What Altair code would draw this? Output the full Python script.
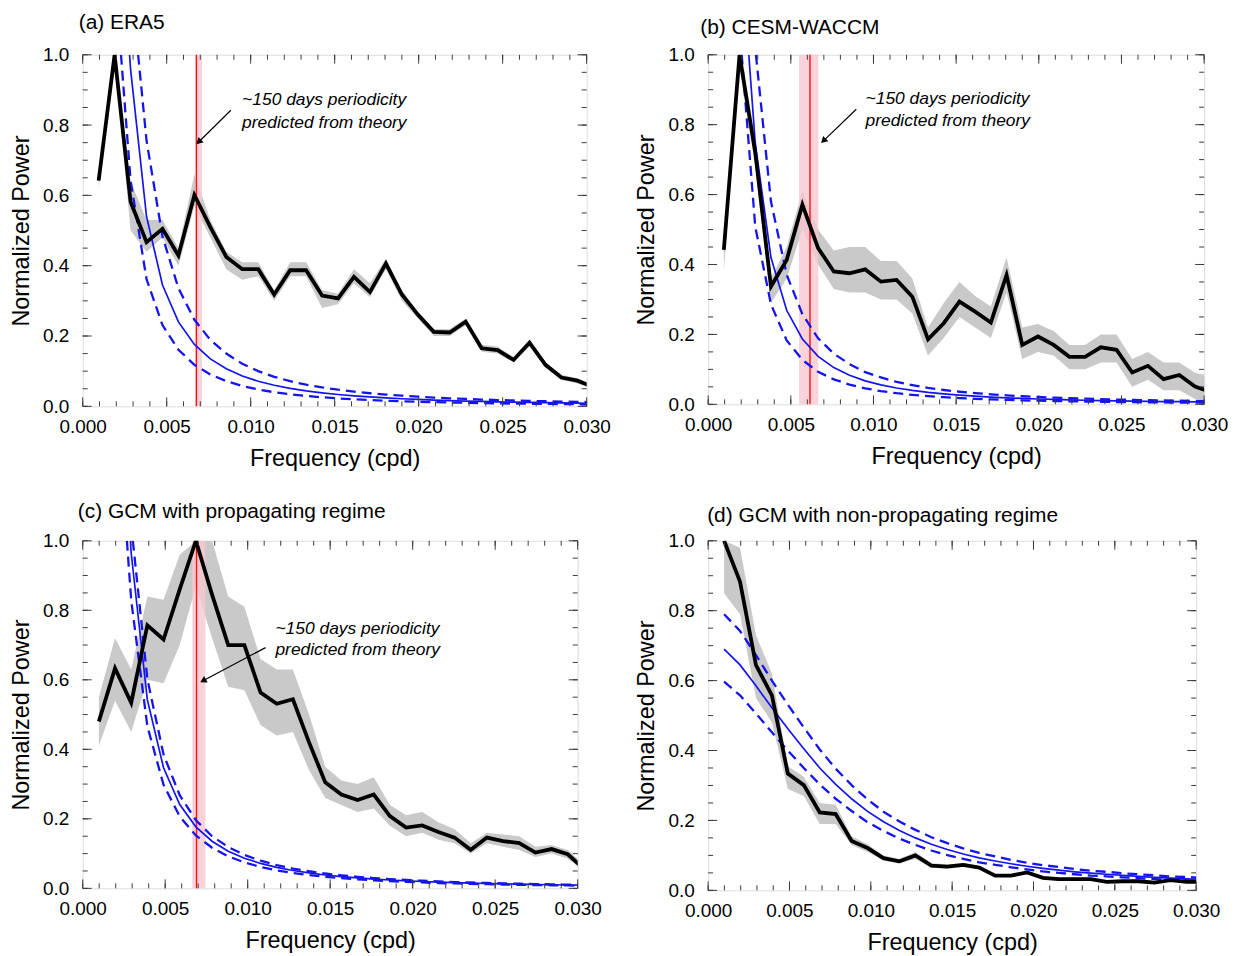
import altair as alt
import pandas as pd

FONT = "Liberation Sans"

# ---------------- data ----------------
freq_ab = [0.00095, 0.0019, 0.00285, 0.0038, 0.00475, 0.0057, 0.00665, 0.0076, 0.00855, 0.0095,
           0.01045, 0.0114, 0.01235, 0.0133, 0.01425, 0.0152, 0.01615, 0.0171, 0.01805, 0.019,
           0.01995, 0.0209, 0.02185, 0.0228, 0.02375, 0.0247, 0.02565, 0.0266, 0.02755, 0.0285,
           0.02945, 0.0304]
freq_cd = [0.00098, 0.00196, 0.00294, 0.00392, 0.0049, 0.00588, 0.00686, 0.00784, 0.00882, 0.0098,
           0.01078, 0.01176, 0.01274, 0.01372, 0.0147, 0.01568, 0.01666, 0.01764, 0.01862, 0.0196,
           0.02058, 0.02156, 0.02254, 0.02352, 0.0245, 0.02548, 0.02646, 0.02744, 0.02842, 0.0294,
           0.03038]

# (a) ERA5
a_power = [0.642, 1.0, 0.582, 0.467, 0.505, 0.429, 0.601, 0.51, 0.425, 0.39,
           0.39, 0.318, 0.387, 0.387, 0.315, 0.307, 0.368, 0.325, 0.406, 0.318,
           0.261, 0.212, 0.21, 0.241, 0.165, 0.16, 0.132, 0.181, 0.118, 0.082, 0.073, 0.055]
a_lo = [0.62, 0.99, 0.50, 0.44, 0.48, 0.40, 0.57, 0.48, 0.39, 0.36, 0.37, 0.30, 0.37, 0.37, 0.28, 0.29,
        0.35, 0.31, 0.39, 0.30, 0.25, 0.20, 0.20, 0.23, 0.155, 0.15, 0.125, 0.17, 0.11, 0.075, 0.065, 0.05]
a_hi = [0.66, 1.0, 0.64, 0.53, 0.53, 0.45, 0.66, 0.53, 0.44, 0.41, 0.41, 0.33, 0.41, 0.41, 0.33, 0.32,
        0.39, 0.35, 0.42, 0.33, 0.27, 0.22, 0.22, 0.25, 0.175, 0.17, 0.14, 0.19, 0.125, 0.09, 0.08, 0.06]
a_theory = [None, None, 0.959, 0.540, 0.345, 0.240, 0.176, 0.135, 0.107, 0.0863, 0.0713, 0.0599, 0.0511,
            0.0440, 0.0384, 0.0337, 0.0299, 0.0266, 0.0239, 0.0216, 0.0196, 0.0178, 0.0163, 0.0150,
            0.0138, 0.0128, 0.0118, 0.0110, 0.0103, 0.0096, 0.0090, 0.0084]
a_theory_up = [None, None, None, 0.756, 0.483, 0.336, 0.246, 0.189, 0.150, 0.121, 0.100, 0.084, 0.0715,
               0.0616, 0.0538, 0.0472, 0.0419, 0.0372, 0.0335, 0.0302, 0.0274, 0.0249, 0.0228, 0.0210,
               0.0193, 0.0179, 0.0165, 0.0154, 0.0144, 0.0134, 0.0126, 0.0118]
a_theory_lo = [None, None, 0.643, 0.362, 0.231, 0.161, 0.118, 0.0905, 0.0717, 0.0578, 0.0478, 0.0401,
               0.0342, 0.0295, 0.0257, 0.0226, 0.0200, 0.0178, 0.0160, 0.0145, 0.0131, 0.0119, 0.0109,
               0.0101, 0.0092, 0.0086, 0.0079, 0.0074, 0.0069, 0.0064, 0.0060, 0.0056]
a_top_cross = [0.00279, 0.0033, 0.00228]      # where solid / upper / lower leave the top
a_red = [0.00677]
a_band = [0.0067, 0.0071]

# (b) CESM-WACCM
b_power = [0.442, 1.0, 0.72, 0.337, 0.413, 0.571, 0.447, 0.380, 0.375, 0.386,
           0.351, 0.356, 0.308, 0.186, 0.232, 0.294, 0.265, 0.234, 0.370, 0.170,
           0.194, 0.170, 0.136, 0.136, 0.163, 0.156, 0.091, 0.110, 0.072, 0.084, 0.051, 0.035]
b_lo = [0.38, 0.96, 0.68, 0.29, 0.36, 0.50, 0.40, 0.33, 0.32, 0.32, 0.30, 0.30, 0.26, 0.14, 0.19, 0.25,
        0.22, 0.19, 0.32, 0.13, 0.15, 0.14, 0.10, 0.10, 0.12, 0.12, 0.05, 0.07, 0.04, 0.04, 0.015, 0.01]
b_hi = [0.45, 1.0, 0.75, 0.36, 0.45, 0.61, 0.50, 0.44, 0.45, 0.45, 0.41, 0.41, 0.36, 0.22, 0.29, 0.35,
        0.31, 0.28, 0.42, 0.22, 0.23, 0.21, 0.17, 0.17, 0.20, 0.20, 0.13, 0.15, 0.12, 0.12, 0.09, 0.08]
b_theory = [None, None, 0.747, 0.420, 0.269, 0.187, 0.137, 0.105, 0.083, 0.067, 0.0556, 0.0467, 0.0398,
            0.0343, 0.0299, 0.0263, 0.0233, 0.0208, 0.0186, 0.0168, 0.0153, 0.0139, 0.0127, 0.0117,
            0.0108, 0.0099, 0.0092, 0.0086, 0.0080, 0.0075, 0.0070, 0.0066]
b_theory_up = [None, None, None, 0.580, 0.371, 0.258, 0.189, 0.145, 0.115, 0.092, 0.077, 0.064, 0.055,
               0.047, 0.041, 0.036, 0.032, 0.0287, 0.0257, 0.0232, 0.0211, 0.0192, 0.0175, 0.0161,
               0.0149, 0.0137, 0.0127, 0.0119, 0.0110, 0.0104, 0.0097, 0.0091]
b_theory_lo = [None, None, 0.508, 0.286, 0.183, 0.127, 0.093, 0.0714, 0.0564, 0.0456, 0.0378, 0.0318,
               0.0271, 0.0233, 0.0203, 0.0179, 0.0158, 0.0141, 0.0126, 0.0114, 0.0104, 0.0095, 0.0086,
               0.0080, 0.0073, 0.0067, 0.0063, 0.0058, 0.0054, 0.0051, 0.0048, 0.0045]
b_top_cross = [0.00246, 0.00289, 0.00203]
b_red = [0.00616]
b_band = [0.0055, 0.00666]

# (c) GCM with propagating regime
c_power = [0.48, 0.633, 0.534, 0.757, 0.716, 0.86, 1.0, 0.845, 0.70, 0.70,
           0.563, 0.531, 0.544, 0.42, 0.305, 0.270, 0.254, 0.270, 0.208, 0.175,
           0.181, 0.162, 0.146, 0.111, 0.146, 0.136, 0.130, 0.103, 0.113, 0.098, 0.056]
c_lo = [0.41, 0.54, 0.45, 0.60, 0.59, 0.70, 0.87, 0.72, 0.58, 0.57, 0.47, 0.44, 0.45, 0.34, 0.26, 0.24,
        0.22, 0.23, 0.18, 0.15, 0.16, 0.14, 0.13, 0.10, 0.13, 0.12, 0.11, 0.09, 0.10, 0.085, 0.05]
c_hi = [0.55, 0.72, 0.63, 0.84, 0.83, 0.96, 1.0, 1.0, 0.84, 0.81, 0.66, 0.63, 0.63, 0.50, 0.35, 0.31,
        0.30, 0.32, 0.24, 0.21, 0.22, 0.19, 0.17, 0.13, 0.16, 0.155, 0.15, 0.12, 0.125, 0.11, 0.07]
c_theory = [None, None, 0.964, 0.542, 0.347, 0.241, 0.177, 0.1355, 0.107, 0.0867, 0.0717, 0.0602,
            0.0513, 0.0443, 0.0385, 0.0339, 0.0300, 0.0268, 0.0240, 0.0217, 0.0197, 0.0179, 0.0164,
            0.0151, 0.0139, 0.0128, 0.0119, 0.0111, 0.0103, 0.0096, 0.0090]
c_theory_up = [None, None, None, 0.602, 0.385, 0.268, 0.196, 0.150, 0.119, 0.0962, 0.0796, 0.0668,
               0.0569, 0.0492, 0.0427, 0.0376, 0.0333, 0.0297, 0.0266, 0.0241, 0.0219, 0.0199, 0.0182,
               0.0168, 0.0154, 0.0142, 0.0132, 0.0123, 0.0114, 0.0107, 0.0100]
c_theory_lo = [None, None, 0.829, 0.466, 0.298, 0.207, 0.152, 0.117, 0.092, 0.0746, 0.0617, 0.0518,
               0.0441, 0.0381, 0.0331, 0.0292, 0.0258, 0.0230, 0.0206, 0.0187, 0.0169, 0.0154, 0.0141,
               0.0130, 0.0120, 0.0110, 0.0102, 0.0095, 0.0089, 0.0083, 0.0077]
c_top_cross = [0.00289, 0.00304, 0.00268]
c_red = [0.0069]
c_band = [0.00664, 0.00744]

# (d) GCM with non-propagating regime
d_power = [1.0, 0.883, 0.644, 0.558, 0.334, 0.301, 0.223, 0.218, 0.141, 0.121,
           0.092, 0.083, 0.100, 0.071, 0.068, 0.073, 0.065, 0.042, 0.042, 0.051,
           0.036, 0.032, 0.032, 0.032, 0.024, 0.026, 0.026, 0.022, 0.029, 0.024, 0.024]
d_lo = [0.85, 0.79, 0.55, 0.48, 0.29, 0.27, 0.19, 0.19, 0.13, 0.11, 0.085, 0.077, 0.09, 0.065, 0.062, 0.067,
        0.06, 0.038, 0.038, 0.046, 0.032, 0.028, 0.028, 0.028, 0.021, 0.022, 0.022, 0.019, 0.025, 0.021, 0.021]
d_hi = [1.0, 0.98, 0.73, 0.62, 0.355, 0.325, 0.25, 0.245, 0.155, 0.132, 0.1, 0.09, 0.11, 0.078, 0.074, 0.079,
        0.07, 0.046, 0.046, 0.056, 0.04, 0.036, 0.036, 0.036, 0.027, 0.03, 0.03, 0.026, 0.033, 0.027, 0.027]
d_theory = [0.690, 0.645, 0.585, 0.522, 0.462, 0.405, 0.350, 0.303, 0.262, 0.226, 0.196, 0.171, 0.150,
            0.132, 0.117, 0.104, 0.093, 0.084, 0.076, 0.069, 0.063, 0.058, 0.053, 0.049, 0.046, 0.043,
            0.040, 0.037, 0.035, 0.033, 0.031]
d_theory_up = [0.790, 0.742, 0.673, 0.600, 0.531, 0.466, 0.403, 0.348, 0.301, 0.260, 0.225, 0.197, 0.173,
               0.152, 0.135, 0.120, 0.107, 0.097, 0.087, 0.079, 0.072, 0.067, 0.061, 0.056, 0.053, 0.049,
               0.046, 0.043, 0.040, 0.038, 0.036]
d_theory_lo = [0.597, 0.558, 0.506, 0.452, 0.400, 0.350, 0.303, 0.262, 0.227, 0.195, 0.170, 0.148, 0.130,
               0.114, 0.101, 0.090, 0.080, 0.073, 0.066, 0.060, 0.054, 0.050, 0.046, 0.042, 0.040, 0.037,
               0.035, 0.032, 0.030, 0.029, 0.027]

titles = ["(a) ERA5", "(b) CESM-WACCM", "(c) GCM with propagating regime",
          "(d) GCM with non-propagating regime"]
note_lines = ["~150 days periodicity", "predicted from theory"]
# annotation anchors in data coordinates: text x, line-1 y, line-2 y, arrow tail (x, y), arrow tip (x, y)
a_note = [0.00949, 0.8725, 0.8045, 0.00882, 0.842, 0.00695, 0.754]
b_note = [0.00952, 0.8746, 0.8111, 0.00896, 0.8442, 0.00702, 0.7558]
c_note = [0.01168, 0.747, 0.685, 0.01108, 0.6926, 0.00735, 0.5989]

x_labels = [0.0, 0.005, 0.01, 0.015, 0.02, 0.025, 0.03]
y_labels = [0.0, 0.2, 0.4, 0.6, 0.8, 1.0]
x_minor = [0.0, 0.001, 0.002, 0.003, 0.004, 0.005, 0.006, 0.007, 0.008, 0.009, 0.010, 0.011, 0.012,
           0.013, 0.014, 0.015, 0.016, 0.017, 0.018, 0.019, 0.020, 0.021, 0.022, 0.023, 0.024, 0.025,
           0.026, 0.027, 0.028, 0.029, 0.030]
y_minor = [0.0, 0.05, 0.1, 0.15, 0.2, 0.25, 0.3, 0.35, 0.4, 0.45, 0.5, 0.55, 0.6, 0.65, 0.7, 0.75,
           0.8, 0.85, 0.9, 0.95, 1.0]

# ---------------- styling ----------------
BLUE = "#1414ee"
GREY = "#c9c9c9"
FRAME = "#3a3a3a"

xscale = alt.Scale(domain=[0, 0.03], nice=False, zero=False)
yscale = alt.Scale(domain=[0, 1], nice=False, zero=False)

xaxis = alt.Axis(values=x_labels, format=".3f", title="Frequency (cpd)", ticks=False, domain=False,
                 grid=False, labelFontSize=19, titleFontSize=23.5, labelPadding=11, titlePadding=10,
                 titleFontWeight="normal", labelColor="black", titleColor="black",
                 labelFlush=False, labelOverlap=False, labelFont=FONT, titleFont=FONT)
yaxis = alt.Axis(values=y_labels, format=".1f", title="Normalized Power", ticks=False, domain=False,
                 grid=False, labelFontSize=19, titleFontSize=23.5, labelPadding=14, titlePadding=9,
                 titleFontWeight="normal", labelColor="black", titleColor="black",
                 labelFlush=False, labelOverlap=False, labelFont=FONT, titleFont=FONT)


def X(f):
    return alt.X(f, type="quantitative", scale=xscale, axis=xaxis)


def Y(f):
    return alt.Y(f, type="quantitative", scale=yscale, axis=yaxis)


def curve_df(freq, vals, cross):
    rows = [{"f": cross, "v": 1.0}] if cross is not None else []
    rows += [{"f": f, "v": v} for f, v in zip(freq, vals) if v is not None]
    return pd.DataFrame(rows)


def panel(freq, power, lo, hi, th, th_up, th_lo, cross, red, band, note, title, W, H, tdx, toff, angle):
    main = pd.DataFrame({"f": freq, "v": power, "lo": lo, "hi": hi})
    layers = []
    layers.append(alt.Chart(main).mark_area(color=GREY, clip=True).encode(x=X("f"), y=Y("lo"), y2="hi"))
    if band is not None:
        layers.append(alt.Chart(pd.DataFrame({"f": [band[0]], "f2": [band[1]]}))
                      .mark_rect(color="#f8c8d0", opacity=0.8)
                      .encode(x=X("f"), x2="f2", y=alt.value(0), y2=alt.value(H)))
        layers.append(alt.Chart(pd.DataFrame({"f": red})).mark_rule(color="#ff1111", strokeWidth=1.4)
                      .encode(x=X("f"), y=alt.value(0), y2=alt.value(H)))
    c_s, c_u, c_l = cross if cross is not None else (None, None, None)
    for vals, cr, dash, sw in [(th_up, c_u, [10, 6], 2.3), (th_lo, c_l, [10, 6], 2.3), (th, c_s, None, 1.7)]:
        kw = dict(color=BLUE, strokeWidth=sw, clip=True)
        if dash:
            kw["strokeDash"] = dash
        layers.append(alt.Chart(curve_df(freq, vals, cr)).mark_line(**kw).encode(x=X("f"), y=Y("v")))
    layers.append(alt.Chart(main).mark_line(color="black", strokeWidth=3.8, clip=True,
                                            strokeJoin="miter").encode(x=X("f"), y=Y("v")))
    # inward ticks on all four sides
    xm = pd.DataFrame({"t": x_minor})
    xM = pd.DataFrame({"t": x_labels})
    ym = pd.DataFrame({"t": y_minor})
    yM = pd.DataFrame({"t": y_labels})
    for d, ln in [(xm, 5), (xM, 9)]:
        layers.append(alt.Chart(d).mark_rule(color=FRAME, strokeWidth=1)
                      .encode(x=X("t"), y=alt.value(H), y2=alt.value(H - ln)))
        layers.append(alt.Chart(d).mark_rule(color=FRAME, strokeWidth=1)
                      .encode(x=X("t"), y=alt.value(0), y2=alt.value(ln)))
    for d, ln in [(ym, 5), (yM, 9)]:
        layers.append(alt.Chart(d).mark_rule(color=FRAME, strokeWidth=1)
                      .encode(y=Y("t"), x=alt.value(0), x2=alt.value(ln)))
        layers.append(alt.Chart(d).mark_rule(color=FRAME, strokeWidth=1)
                      .encode(y=Y("t"), x=alt.value(W), x2=alt.value(W - ln)))
    if note is not None:
        tdf = pd.DataFrame({"f": [note[0], note[0]], "v": [note[1], note[2]], "t": note_lines})
        layers.append(alt.Chart(tdf).mark_text(align="left", baseline="middle", fontSize=17.5,
                                               fontStyle="italic", font=FONT, color="black")
                      .encode(x=X("f"), y=Y("v"), text="t:N"))
        adf = pd.DataFrame({"f": [note[3]], "v": [note[4]], "f2": [note[5]], "v2": [note[6]]})
        layers.append(alt.Chart(adf).mark_rule(color="black", strokeWidth=1.2)
                      .encode(x=X("f"), y=Y("v"), x2="f2", y2="v2"))
        hdf = pd.DataFrame({"f": [note[5]], "v": [note[6]]})
        layers.append(alt.Chart(hdf).mark_point(shape="triangle", filled=True, size=55, angle=angle,
                                                color="black", opacity=1)
                      .encode(x=X("f"), y=Y("v")))
    return alt.layer(*layers).properties(
        width=W, height=H,
        title=alt.TitleParams(title, anchor="start", frame="group", dx=tdx, offset=toff,
                              fontSize=21, fontWeight="normal", font=FONT, color="black"))


pa = panel(freq_ab, a_power, a_lo, a_hi, a_theory, a_theory_up, a_theory_lo, a_top_cross,
           a_red, a_band, a_note, titles[0], 506, 353, -4, 13, 225)
pb = panel(freq_ab, b_power, b_lo, b_hi, b_theory, b_theory_up, b_theory_lo, b_top_cross,
           b_red, b_band, b_note, titles[1], 498, 351, -8, 8, 226)
pc = panel(freq_cd, c_power, c_lo, c_hi, c_theory, c_theory_up, c_theory_lo, c_top_cross,
           c_red, c_band, c_note, titles[2], 497, 349, -5, 10, 242)
pd_ = panel(freq_cd, d_power, d_lo, d_hi, d_theory, d_theory_up, d_theory_lo, None,
            None, None, None, titles[3], 490, 351, -1, 6, 0)

chart = alt.concat(pa, pb, pc, pd_, columns=2, spacing={"row": 135, "column": 122},
                   bounds="flush").properties(
    padding={"left": 1, "top": 1, "right": 5, "bottom": 5}, background="white"
).configure_view(stroke=FRAME, strokeWidth=1.2).configure(font=FONT)

chart.save("out.html", embed_options={"renderer": "svg", "actions": False})
